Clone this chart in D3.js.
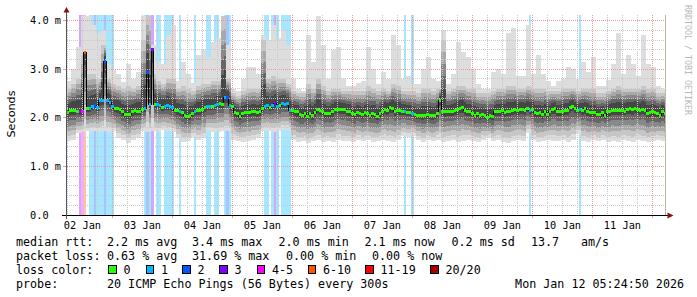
<!DOCTYPE html>
<html>
<head>
<meta charset="utf-8">
<script src="https://cdn.jsdelivr.net/npm/d3@7/dist/d3.min.js"></script>
<style>
body{margin:0;background:#fff;}
svg{display:block;}
text{font-family:"DejaVu Sans Mono",monospace;fill:#000;}
</style>
</head>
<body>
<svg id="grafico" width="697" height="297"></svg>
<script>

// mediana por hora (ms), 240 horas desde Jan 02 05:24:50
var mediana = [
 2.12,2.16,2.16,2.16,2.15, 2.14,2.13,3.36,2.20,2.21, 2.24,2.27,2.22,2.36,2.37, 3.17,2.37,2.33,2.24,2.20,
 2.21,2.18,2.14,2.08,2.07, 2.08,2.13,2.16,2.15,2.15, 2.19,2.21,2.94,2.28,3.41, 2.28,2.28,2.27,2.23,2.25,
 2.26,2.24,2.22,2.17,2.16, 2.13,2.11,2.06,2.04,2.05, 2.09,2.15,2.17,2.16,2.19, 2.22,2.24,2.24,2.25,2.26,
 2.29,2.31,2.28,2.43,2.43, 2.26,2.25,2.12,2.10,2.03, 2.10,2.12,2.12,2.11,2.13, 2.13,2.11,2.13,2.21,2.25,
 2.27,2.22,2.26,2.30,2.25, 2.27,2.30,2.29,2.30,2.17, 2.16,2.13,2.13,2.07,2.06, 2.10,2.04,2.09,2.05,2.12,
 2.18,2.16,2.14,2.09,2.10, 2.09,2.13,2.19,2.19,2.19, 2.18,2.19,2.15,2.15,2.10, 2.07,2.12,2.10,2.07,2.12,
 2.10,2.05,2.10,2.08,2.03, 2.09,2.14,2.19,2.17,2.22, 2.21,2.15,2.17,2.16,2.15, 2.15,2.12,2.12,2.10,2.07,
 2.06,2.06,2.05,2.06,2.07, 2.05,2.05,2.06,2.09,2.37, 2.14,2.13,2.13,2.13,2.14, 2.17,2.18,2.21,2.22,2.17,
 2.14,2.13,2.10,2.06,2.09, 2.05,2.07,2.06,2.02,2.05, 2.03,2.13,2.14,2.14,2.16, 2.12,2.15,2.15,2.17,2.19,
 2.16,2.18,2.19,2.16,2.20, 2.17,2.18,2.11,2.09,2.11, 2.07,2.13,2.08,2.13,2.19, 2.20,2.13,2.13,2.13,2.17,
 2.16,2.22,2.25,2.20,2.16, 2.19,2.17,2.20,2.15,2.11, 2.11,2.11,2.08,2.08,2.12, 2.06,2.13,2.14,2.17,2.16,
 2.17,2.17,2.16,2.15,2.18, 2.20,2.18,2.21,2.19,2.16, 2.19,2.16,2.09,2.11,2.14, 2.11,2.10,2.06,2.13,2.09
];

// humo cada 2 horas: ping minimo, borde de la banda media, ping maximo (ms)
var humoMin = [
 1.52,1.55,1.68,1.70,1.72,1.72,1.70,1.72,1.70,1.72, 1.58,1.55,1.48,1.55,1.58,1.72,1.70,1.72,1.70,1.75,
 1.72,1.70,1.58,1.50,1.52,1.60,1.55,1.58,1.72,1.70, 1.70,1.72,1.72,1.55,1.52,1.50,1.52,1.55,1.58,1.72,
 1.72,1.70,1.72,1.75,1.75,1.55,1.50,1.52,1.48,1.52, 1.55,1.50,1.52,1.50,1.55,1.52,1.53,1.50,1.55,1.52,
 1.55,1.50,1.53,1.55,1.52,1.50,1.55,1.62,1.60,1.62, 1.55,1.50,1.55,1.52,1.55,1.50,1.52,1.55,1.50,1.53,
 1.55,1.52,1.50,1.55,1.58,1.52,1.55,1.50,1.48,1.52, 1.55,1.52,1.68,1.55,1.50,1.52,1.55,1.53,1.52,1.55,
 1.50,1.55,1.66,1.52,1.50,1.55,1.52,1.55,1.50,1.52, 1.50,1.55,1.52,1.50,1.55,1.52,1.50,1.52,1.55,1.52
];
var humoMedio = [
 2.60,2.70,2.80,3.30,2.90,2.90,2.80,3.50,2.80,2.70, 2.65,2.60,2.65,2.60,2.65,3.60,4.10,2.90,2.75,2.70,
 2.80,2.80,2.60,2.65,2.60,2.55,2.65,2.70,2.70,2.75, 2.75,4.10,2.80,2.50,2.45,2.55,2.60,2.60,2.60,3.60,
 2.80,2.85,2.80,2.80,2.70,2.55,2.50,2.50,2.70,2.60, 2.80,2.65,2.55,2.60,2.60,2.55,2.55,2.55,2.55,2.55,
 2.65,2.60,2.55,2.60,2.55,2.70,2.65,2.55,2.55,2.55, 2.50,2.60,2.60,2.55,2.60,3.60,2.55,2.60,2.65,2.65,
 2.60,2.60,2.50,2.50,2.50,2.55,2.60,2.60,2.65,2.65, 2.60,2.60,2.65,2.60,2.60,2.60,2.55,2.55,2.55,2.60,
 2.60,2.60,2.55,2.60,2.60,2.60,2.50,2.50,2.55,2.60, 2.65,2.60,2.60,2.60,2.60,2.65,2.60,2.60,2.50,2.50
];
var humoMax = [
 2.75,3.00,3.45,4.10,4.10,3.90,3.75,3.80,3.10,2.98, 2.90,2.73,3.10,2.80,2.95,4.10,4.10,3.50,3.15,3.10,
 3.70,3.90,2.75,3.15,2.90,2.72,3.30,3.40,3.25,3.55, 3.65,4.10,3.50,2.60,2.55,2.80,3.05,3.05,2.90,3.70,
 3.60,3.90,3.65,3.80,3.50,2.80,2.60,2.55,3.70,3.15, 4.10,3.50,2.80,3.40,3.45,2.80,2.65,2.65,2.72,2.75,
 3.45,3.00,2.70,2.95,2.80,3.70,3.50,2.80,2.85,2.70, 2.70,3.00,3.25,2.80,2.75,3.80,2.70,2.90,3.55,3.35,
 3.25,3.00,2.70,2.60,2.60,2.95,3.00,2.90,3.75,3.85, 2.85,2.85,3.90,2.90,3.30,2.90,2.75,2.65,2.75,2.80,
 3.05,3.00,2.80,3.15,2.95,3.25,2.65,2.65,2.78,3.10, 3.75,2.90,3.30,3.10,2.85,3.70,3.10,3.05,2.65,2.60
];

// perdidas: hora y numero de pings perdidos
var perdidaHoras  = [5,6,7,9,10,11,12,13,14,15,16,17,18,31,32,33,34,36,37,39,40,41,42,45,51,56,57,59,60,63,64,65,79,80,82,83,84,86,87,88,89,135,138,185,205];
var perdidaPings  = [3,5,8,1,1,2,1,1,1,2,1,1,1,1,2,1,3,1,1,1,1,1,1,1,1,1,1,1,1,1,2,1,1,1,1,3,1,1,1,1,1,1,1,1,1];

var colorPerdida = ["#26ff00","#00b8ff","#0059ff","#7e00ff","#ff00ff","#ff5500","#ff0000","#a10000"];
var etiquetaPerdida = ["0","1","2","3","4-5","6-10","11-19","20/20"];
var limitePerdida = [0,1,2,3,5,10,19,20];

var ticksY = [0,1,2,3,4];
var etiquetasY = ["0.0","1.0 m","2.0 m","3.0 m","4.0 m"];
var etiquetasDia = ["02 Jan","03 Jan","04 Jan","05 Jan","06 Jan","07 Jan","08 Jan","09 Jan","10 Jan","11 Jan"];

var grisesHumo = ["#dddddd","#c6c6c6","#a8a8a8","#888888","#666666","#464646"];

// leyenda: [texto, x]
var leyendaRtt = [["median rtt:",16],["2.2 ms avg",107],["3.4 ms max",192],["2.0 ms min",278.5],["2.1 ms now",364.5],["0.2 ms sd",451.5],["13.7",531],["am/s",581]];
var leyendaLoss = [["packet loss:",16],["0.63 % avg",107],["31.69 % max",192],["0.00 % min",286],["0.00 % now",372]];
var leyendaColor = [["loss color:",16]];
var leyendaProbe = [["probe:",16],["20 ICMP Echo Pings (56 Bytes) every 300s",107]];
var fechaGrafico = "Mon Jan 12 05:24:50 2026";


var svg = d3.select("#grafico");
var HORA = 3600 * 1000;
var t0 = Date.UTC(2026,0,2,5,24,50);
var t1 = Date.UTC(2026,0,12,5,24,50);

var x = d3.scaleUtc().domain([t0,t1]).range([66,666]);
var y = d3.scaleLinear().domain([0,4.115]).range([215,15]);

function indicePerdida(n){
	return limitePerdida.findIndex(function(l){ return n <= l; });
}

var perdidaPorHora = {};
perdidaHoras.forEach(function(h,i){ perdidaPorHora[h] = perdidaPings[i]; });

svg.append("rect").attr("width",697).attr("height",297).attr("fill","#ffffff");

// barras de perdida al fondo
svg.append("g").selectAll("rect").data(perdidaHoras).join("rect")
	.attr("x", function(h){ return x(t0 + h*HORA); })
	.attr("width", function(h){ return x(t0 + (h+1)*HORA) - x(t0 + h*HORA); })
	.attr("y", 15)
	.attr("height", 200)
	.attr("fill", function(h,i){ return colorPerdida[indicePerdida(perdidaPings[i])]; })
	.attr("fill-opacity", 0.35)
	.attr("shape-rendering","crispEdges");

// humo
var horas = d3.range(241).map(function(h){
	var hh = Math.min(h,239), c = hh >> 1;
	var m = mediana[hh];
	var hi = Math.max(humoMax[c], m);
	var mid = Math.min(Math.max(humoMedio[c], m), hi);
	return {t: t0 + h*HORA, m: m, lo: humoMin[c], mid: mid, hi: hi, h: hh};
});

grisesHumo.forEach(function(gris,k){
	var area = d3.area()
		.curve(d3.curveStepAfter)
		.x(function(d){ return x(d.t); })
		.y0(function(d){ return y(k == 0 ? d.lo : d.lo + (d.m - d.lo)*k/6); })
		.y1(function(d){ return y(k == 0 ? d.hi : d.mid - (d.mid - d.m)*(k-1)/6); });
	svg.append("path").datum(horas)
		.attr("d", area)
		.attr("fill", gris)
		.attr("shape-rendering","crispEdges");
});

// rejilla
var rejilla = svg.append("g").attr("shape-rendering","crispEdges").attr("stroke-dasharray","1,1");

d3.range(1,21).forEach(function(i){
	var yy = Math.floor(y(i*0.2)) + 0.5;
	rejilla.append("line")
		.attr("x1",67).attr("x2",666).attr("y1",yy).attr("y2",yy)
		.attr("stroke", i % 5 == 0 ? "#eb9a9a" : "#c8c8c8");
});

var medianoches = d3.utcDay.range(t0, t1).map(Number);
d3.utcHour.every(6).range(t0, t1).forEach(function(t){
	var xx = Math.round(x(t)) + 0.5;
	var mayor = medianoches.indexOf(+t) >= 0;
	rejilla.append("line")
		.attr("x1",xx).attr("x2",xx).attr("y1",15).attr("y2",215)
		.attr("stroke", mayor ? "#eb9a9a" : "#c8c8c8");
	if(mayor){
		svg.append("line").attr("x1",xx).attr("x2",xx).attr("y1",215).attr("y2",218)
			.attr("stroke","#eb9a9a").attr("shape-rendering","crispEdges");
	}
});

// mediana
var lineaMediana = d3.line()
	.curve(d3.curveStepAfter)
	.x(function(d){ return x(d.t); })
	.y(function(d){ return Math.round(y(d.m)); });

svg.append("path").datum(horas)
	.attr("d", lineaMediana)
	.attr("fill","none")
	.attr("stroke","#000")
	.attr("stroke-width",1)
	.attr("shape-rendering","crispEdges");

svg.append("g").selectAll("rect").data(horas.slice(0,240)).join("rect")
	.attr("x", function(d){ return x(d.t); })
	.attr("width", 2.5)
	.attr("y", function(d){ return Math.round(y(d.m)) - 1.5; })
	.attr("height", 3)
	.attr("fill", function(d){ return colorPerdida[indicePerdida(perdidaPorHora[d.h] || 0)]; })
	.attr("shape-rendering","crispEdges");

// ejes
svg.append("line").attr("x1",665.5).attr("x2",665.5).attr("y1",15).attr("y2",215)
	.attr("stroke","#bdb9a3").attr("shape-rendering","crispEdges");
svg.append("line").attr("x1",62).attr("x2",668).attr("y1",215.5).attr("y2",215.5)
	.attr("stroke","#000").attr("shape-rendering","crispEdges");
svg.append("line").attr("x1",66.5).attr("x2",66.5).attr("y1",219).attr("y2",11)
	.attr("stroke","#555").attr("shape-rendering","crispEdges");
svg.append("path").attr("d","M667.5,212.5L673.5,215.5L667.5,218.5Z").attr("fill","#8b0f0f");
svg.append("path").attr("d","M63.5,12.5L66.5,7L69.5,12.5Z").attr("fill","#8b0f0f");

ticksY.forEach(function(v,i){
	var yy = Math.floor(y(v)) + 0.5;
	if(v > 0){
		svg.append("line").attr("x1",63).attr("x2",66).attr("y1",yy).attr("y2",yy)
			.attr("stroke","#eb9a9a").attr("shape-rendering","crispEdges");
	}
	svg.append("text")
		.attr("x",30).attr("y",yy + 3.5)
		.style("font-size","10.3px")
		.text(etiquetasY[i]);
});

etiquetasDia.forEach(function(txt,i){
	var mediodia = Date.UTC(2026,0,2+i,12,0,0);
	svg.append("text")
		.attr("x", x(mediodia))
		.attr("y", 228.5)
		.attr("text-anchor","middle")
		.style("font-size","10.3px")
		.text(txt);
});

svg.append("text")
	.attr("transform","translate(14.5,114) rotate(-90)")
	.attr("text-anchor","middle")
	.style("font-family","'DejaVu Sans',sans-serif")
	.style("font-size","11.2px")
	.text("Seconds");

svg.append("text")
	.attr("transform","translate(684.5,5) rotate(90)")
	.style("font-size","8.3px")
	.style("fill","#b8b8b8")
	.text("RRDTOOL / TOBI OETIKER");

// leyenda
[leyendaRtt, leyendaLoss, leyendaColor, leyendaProbe].forEach(function(linea,i){
	linea.forEach(function(trozo){
		svg.append("text")
			.attr("x",trozo[1]).attr("y",245.5 + i*14)
			.style("font-size","11.7px")
			.text(trozo[0]);
	});
});

var cajaX = [108.5,146,182.5,219.5,257,308,365.5,430.5];
etiquetaPerdida.forEach(function(txt,i){
	svg.append("rect")
		.attr("x",cajaX[i]).attr("y",265.5).attr("width",7.5).attr("height",7.5)
		.attr("fill",colorPerdida[i]).attr("stroke","#000").attr("stroke-width",1)
		.attr("shape-rendering","crispEdges");
	svg.append("text")
		.attr("x",cajaX[i] + 15).attr("y",273.5)
		.style("font-size","11.7px")
		.text(txt);
});

svg.append("text")
	.attr("x",684).attr("y",287.5)
	.attr("text-anchor","end")
	.style("font-size","11.7px")
	.text(fechaGrafico);

</script>
</body>
</html>
